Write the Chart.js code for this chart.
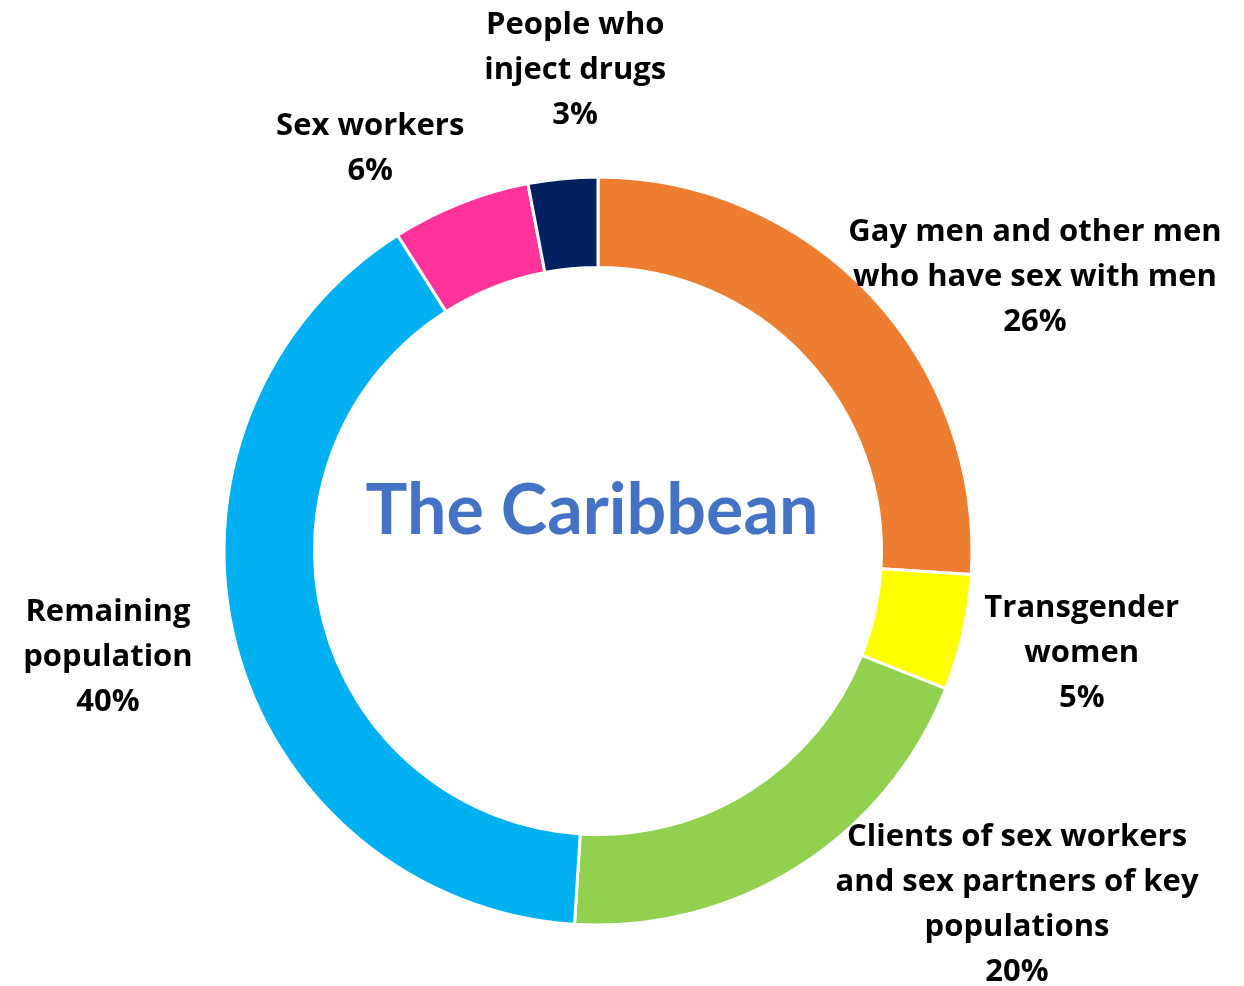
<!DOCTYPE html>
<html lang="en">
<head>
    <meta charset="UTF-8">
    <title>The Caribbean</title>
    <script src="https://cdn.jsdelivr.net/npm/chart.js@4.4.1/dist/chart.umd.min.js"></script>
    <style>
        html, body {
            margin: 0;
            padding: 0;
            background: #ffffff;
        }
        #wrap{
            width: 1244px;
            height: 986px;
        }
    </style>
</head>
<body>
<div id="wrap">
    <canvas id="myChart" width="1244" height="986"></canvas>
</div>
<script>
// dados
const categorias = [
    ['Gay men and other men', 'who have sex with men'],
    ['Transgender', 'women'],
    ['Clients of sex workers', 'and sex partners of key', 'populations'],
    ['Remaining', 'population'],
    ['Sex workers'],
    ['People who', 'inject drugs']
];
const valores = [26, 5, 20, 40, 6, 3];
const cores = ['#ED7D31', '#FFFF00', '#92D050', '#00B0F0', '#FF3399', '#002060'];
const titulo = 'The Caribbean';

// posicao dos rotulos: distancia do centro e desvio angular (graus) em relacao ao meio da fatia
const rotuloDist = [517, 494, 547, 501, 464, 484];
const rotuloDesvio = [10.9, -0.9, -17.6, 2.4, -7.8, 2.7];

const fonteRotulo = 'bold 31px "Open Sans"';
const alturaLinha = 45;

const rotulosPlugin = {
    id: 'rotulos',
    afterDraw(chart){
        const ctx = chart.ctx;
        const meta = chart.getDatasetMeta(0);
        const total = valores.reduce((a, b) => a + b, 0);
        ctx.save();
        ctx.textAlign = 'center';
        ctx.textBaseline = 'alphabetic';
        meta.data.forEach((arc, i) => {
            const meio = (arc.startAngle + arc.endAngle) / 2 + rotuloDesvio[i] * Math.PI / 180;
            const px = arc.x + rotuloDist[i] * Math.cos(meio);
            const py = arc.y + rotuloDist[i] * Math.sin(meio);
            const linhas = [...categorias[i], Math.round(valores[i] / total * 100) + '%'];
            const topo = py - (linhas.length - 1) * alturaLinha / 2;
            ctx.fillStyle = '#000000';
            ctx.font = fonteRotulo;
            // baseline ~ meia altura de maiuscula abaixo do centro da linha
            linhas.forEach((l, k) => ctx.fillText(l, px, topo + k * alturaLinha + 11));
        });
        // titulo no centro
        const a0 = meta.data[0];
        ctx.fillStyle = '#4472C4';
        ctx.font = 'bold 70px Lato';
        ctx.fillText(titulo, a0.x - 6, a0.y - 17);
        ctx.restore();
    }
};

const ctx = document.getElementById('myChart').getContext('2d');
const grafico = new Chart(ctx, {
    type: 'doughnut',
    data: {
        labels: categorias,
        datasets: [{
            data: valores,
            backgroundColor: cores,
            borderColor: '#ffffff',
            borderWidth: 3
        }]
    },
    options: {
        responsive: false,
        animation: false,
        radius: 374,
        cutout: '75.8%',
        layout: {
            padding: {top: 116, bottom: 0, left: 0, right: 48}
        },
        plugins: {
            legend: {display: false},
            tooltip: {enabled: false}
        }
    },
    plugins: [rotulosPlugin]
});
</script>
</body>
</html>
